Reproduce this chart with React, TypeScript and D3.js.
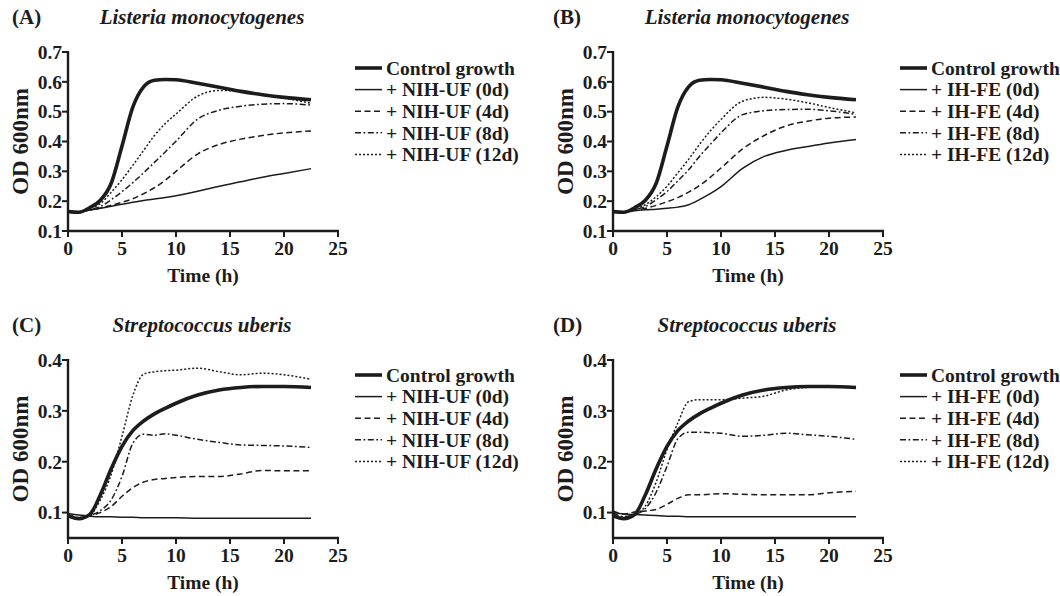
import React from "react";
import * as d3 from "d3";

const hours = [0, 1, 2, 3, 4, 5, 6, 7, 8, 9, 10, 12, 14, 16, 18, 20, 22.5];

// Panel A – Listeria monocytogenes + NIH-UF
const ctrlA = [0.165, 0.163, 0.178, 0.203, 0.26, 0.385, 0.515, 0.583, 0.605, 0.608, 0.607, 0.595, 0.582, 0.568, 0.557, 0.548, 0.54];
const nihUf0A = [0.165, 0.163, 0.17, 0.176, 0.183, 0.19, 0.196, 0.202, 0.207, 0.212, 0.218, 0.233, 0.25, 0.265, 0.28, 0.293, 0.309];
const nihUf4A = [0.165, 0.163, 0.17, 0.177, 0.186, 0.196, 0.208, 0.225, 0.245, 0.27, 0.3, 0.358, 0.39, 0.408, 0.42, 0.429, 0.435];
const nihUf8A = [0.165, 0.163, 0.172, 0.182, 0.205, 0.232, 0.262, 0.295, 0.33, 0.365, 0.401, 0.475, 0.505, 0.518, 0.525, 0.527, 0.522];
const nihUf12A = [0.165, 0.163, 0.175, 0.192, 0.23, 0.272, 0.32, 0.37, 0.42, 0.46, 0.492, 0.552, 0.571, 0.568, 0.558, 0.546, 0.528];

// Panel B – Listeria monocytogenes + IH-FE
const ctrlB = [0.165, 0.163, 0.178, 0.203, 0.26, 0.385, 0.515, 0.583, 0.605, 0.608, 0.607, 0.595, 0.582, 0.568, 0.557, 0.548, 0.54];
const ihFe0B = [0.165, 0.163, 0.168, 0.171, 0.173, 0.176, 0.18, 0.188, 0.205, 0.225, 0.249, 0.31, 0.35, 0.37, 0.383, 0.395, 0.407];
const ihFe4B = [0.165, 0.163, 0.17, 0.176, 0.186, 0.198, 0.212, 0.23, 0.252, 0.28, 0.311, 0.375, 0.42, 0.452, 0.468, 0.478, 0.482];
const ihFe8B = [0.165, 0.163, 0.172, 0.182, 0.205, 0.232, 0.268, 0.305, 0.35, 0.39, 0.429, 0.49, 0.503, 0.507, 0.508, 0.503, 0.491];
const ihFe12B = [0.165, 0.163, 0.174, 0.188, 0.215, 0.25, 0.295, 0.34, 0.39, 0.435, 0.474, 0.535, 0.548, 0.542, 0.53, 0.514, 0.496];

// Panel C – Streptococcus uberis + NIH-UF
const ctrlC = [0.094, 0.088, 0.096, 0.135, 0.186, 0.23, 0.261, 0.28, 0.294, 0.305, 0.315, 0.331, 0.341, 0.346, 0.348, 0.348, 0.346];
const nihUf0C = [0.098, 0.095, 0.093, 0.092, 0.092, 0.091, 0.091, 0.09, 0.09, 0.09, 0.09, 0.089, 0.089, 0.089, 0.089, 0.089, 0.089];
const nihUf4C = [0.096, 0.09, 0.094, 0.1, 0.112, 0.132, 0.149, 0.16, 0.165, 0.167, 0.169, 0.171, 0.171, 0.176, 0.183, 0.182, 0.182];
const nihUf8C = [0.096, 0.09, 0.094, 0.104, 0.125, 0.171, 0.236, 0.254, 0.252, 0.255, 0.252, 0.244, 0.238, 0.233, 0.232, 0.231, 0.228];
const nihUf12C = [0.096, 0.09, 0.095, 0.125, 0.175, 0.25, 0.33, 0.372, 0.377, 0.379, 0.38, 0.384, 0.377, 0.371, 0.374, 0.371, 0.362];

// Panel D – Streptococcus uberis + IH-FE
const ctrlD = [0.094, 0.088, 0.096, 0.135, 0.186, 0.23, 0.261, 0.28, 0.294, 0.305, 0.315, 0.331, 0.341, 0.346, 0.348, 0.348, 0.346];
const ihFe0D = [0.1, 0.097, 0.096, 0.095, 0.094, 0.093, 0.093, 0.092, 0.092, 0.092, 0.092, 0.092, 0.092, 0.092, 0.092, 0.092, 0.092];
const ihFe4D = [0.103, 0.097, 0.101, 0.103, 0.106, 0.116, 0.128, 0.135, 0.135, 0.136, 0.137, 0.136, 0.135, 0.135, 0.135, 0.139, 0.142];
const ihFe8D = [0.1, 0.092, 0.096, 0.108, 0.14, 0.191, 0.245, 0.258, 0.258, 0.257, 0.256, 0.25, 0.252, 0.256, 0.253, 0.25, 0.244];
const ihFe12D = [0.097, 0.091, 0.096, 0.113, 0.16, 0.224, 0.276, 0.318, 0.322, 0.322, 0.322, 0.325, 0.329, 0.341, 0.346, 0.347, 0.345];

const xTicks = [0, 5, 10, 15, 20, 25];
const yTicksListeria = [0.1, 0.2, 0.3, 0.4, 0.5, 0.6, 0.7];
const yTicksStrep = [0.1, 0.2, 0.3, 0.4];
const legendSuffixes = ["(0d)", "(4d)", "(8d)", "(12d)"];

const FONT = "'Liberation Serif', 'Times New Roman', serif";
const INK = "#1c1c1c";

const styles = [
  { w: 3.6, dash: undefined as string | undefined },
  { w: 1.5, dash: undefined },
  { w: 1.5, dash: "6,3.5" },
  { w: 1.5, dash: "6,2.5,1.8,2.5" },
  { w: 1.5, dash: "2,2" },
];

type PanelDef = {
  label: string;
  title: string;
  treatment: string;
  series: number[][];
  yDomain: [number, number];
  yTicks: number[];
  col: number;
  row: number;
};

const panels: PanelDef[] = [
  { label: "(A)", title: "Listeria monocytogenes", treatment: "NIH-UF", series: [ctrlA, nihUf0A, nihUf4A, nihUf8A, nihUf12A], yDomain: [0.1, 0.7], yTicks: yTicksListeria, col: 0, row: 0 },
  { label: "(B)", title: "Listeria monocytogenes", treatment: "IH-FE", series: [ctrlB, ihFe0B, ihFe4B, ihFe8B, ihFe12B], yDomain: [0.1, 0.7], yTicks: yTicksListeria, col: 1, row: 0 },
  { label: "(C)", title: "Streptococcus uberis", treatment: "NIH-UF", series: [ctrlC, nihUf0C, nihUf4C, nihUf8C, nihUf12C], yDomain: [0.05, 0.4], yTicks: yTicksStrep, col: 0, row: 1 },
  { label: "(D)", title: "Streptococcus uberis", treatment: "IH-FE", series: [ctrlD, ihFe0D, ihFe4D, ihFe8D, ihFe12D], yDomain: [0.05, 0.4], yTicks: yTicksStrep, col: 1, row: 1 },
];

function Panel({ p }: { p: PanelDef }) {
  const x0 = p.col === 0 ? 68 : 613;
  const dy = p.row === 0 ? 0 : 308;
  const yTop = p.row === 0 ? 52 : 360;
  const yBot = p.row === 0 ? 231 : 538;
  const x = d3.scaleLinear().domain([0, 25]).range([x0, x0 + 270]);
  const y = d3.scaleLinear().domain(p.yDomain).range([yBot, yTop]);
  const line = d3
    .line<number>()
    .x((_, i) => x(hours[i]))
    .y((v) => y(v))
    .curve(d3.curveMonotoneX);
  const legendX = x0 + 287;
  const legendY0 = p.row === 0 ? 68 : 375;
  const legendStep = 21.6;
  const labels = ["Control growth", ...legendSuffixes.map((s) => `+ ${p.treatment} ${s}`)];
  const order = [1, 2, 3, 4, 0];
  return (
    <g>
      <text x={p.col === 0 ? 12 : 553} y={24 + dy} fontFamily={FONT} fontWeight="bold" fontSize={21} fill={INK}>
        {p.label}
      </text>
      <text x={x0 + 134} y={24 + dy} textAnchor="middle" fontFamily={FONT} fontWeight="bold" fontStyle="italic" fontSize={21} fill={INK}>
        {p.title}
      </text>
      {/* axes */}
      <line x1={x0} x2={x0} y1={yTop - 1} y2={yBot + 1} stroke={INK} strokeWidth={2.4} />
      <line x1={x0 - 1} x2={x0 + 271} y1={yBot} y2={yBot} stroke={INK} strokeWidth={2.4} />
      {p.yTicks.map((t) => (
        <g key={"y" + t}>
          <line x1={x0 - 6} x2={x0} y1={y(t)} y2={y(t)} stroke={INK} strokeWidth={2} />
          <text x={x0 - 6} y={y(t)} dy="0.35em" textAnchor="end" fontFamily={FONT} fontWeight="bold" fontSize={19.5} fill={INK}>
            {d3.format(".1f")(t)}
          </text>
        </g>
      ))}
      {xTicks.map((t) => (
        <g key={"x" + t}>
          <line x1={x(t)} x2={x(t)} y1={yBot} y2={yBot + 6} stroke={INK} strokeWidth={2} />
          <text x={x(t)} y={yBot + 24} textAnchor="middle" fontFamily={FONT} fontWeight="bold" fontSize={19.5} fill={INK}>
            {t}
          </text>
        </g>
      ))}
      <text x={x0 + 135} y={yBot + 51} textAnchor="middle" fontFamily={FONT} fontWeight="bold" fontSize={19.5} fill={INK}>
        Time (h)
      </text>
      <text
        transform={`translate(${x0 - 40},${(yTop + yBot) / 2}) rotate(-90)`}
        textAnchor="middle"
        fontFamily={FONT}
        fontWeight="bold"
        fontSize={23}
        fill={INK}
      >
        OD 600nm
      </text>
      {/* series */}
      {order.map((k) => (
        <path
          key={"s" + k}
          d={line(p.series[k]) || ""}
          fill="none"
          stroke={INK}
          strokeWidth={styles[k].w}
          strokeDasharray={styles[k].dash}
          strokeLinejoin="round"
        />
      ))}
      {/* legend */}
      {labels.map((lab, k) => (
        <g key={"l" + k}>
          <line
            x1={legendX}
            x2={legendX + 27}
            y1={legendY0 + k * legendStep}
            y2={legendY0 + k * legendStep}
            stroke={INK}
            strokeWidth={styles[k].w}
            strokeDasharray={styles[k].dash}
          />
          <text x={legendX + 31} y={legendY0 + k * legendStep} dy="0.35em" fontFamily={FONT} fontWeight="bold" fontSize={19.5} fill={INK}>
            {lab}
          </text>
        </g>
      ))}
    </g>
  );
}

export default function App() {
  return (
    <svg width={1060} height={596} style={{ position: "absolute", left: 0, top: 0, background: "#fff" }}>
      <rect width={1060} height={596} fill="#fff" />
      {panels.map((p) => (
        <Panel key={p.label} p={p} />
      ))}
    </svg>
  );
}
